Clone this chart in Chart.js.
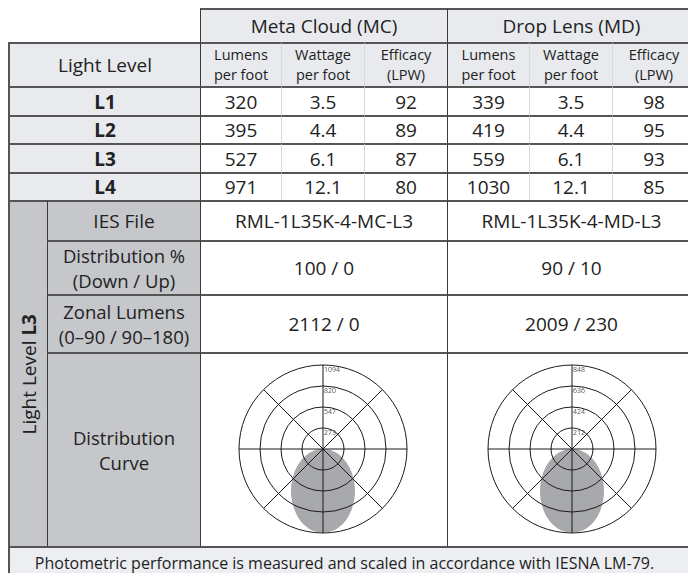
<!DOCTYPE html>
<html>
<head>
<meta charset="utf-8">
<script src="https://cdn.jsdelivr.net/npm/chart.js@4.4.1/dist/chart.umd.min.js"></script>
<style>
  body {
    margin: 0;
    background: #fff;
    overflow: hidden;
    font-family: "Open Sans", sans-serif;
    color: #222;
  }
  #spec {
    position: absolute;
    left: 8px;
    top: 8px;
    display: grid;
    grid-template-columns: 39px 153px 81px 83px 83px 82px 83px 83px;
    grid-template-rows: 34px 44px 29px 28px 29px 28px 40px 54px 58px 194px 32px;
  }
  .cell {
    box-sizing: border-box;
    border-top: 2px solid #555;
    border-left: 1px solid #3a3a3a;
    display: flex;
    align-items: center;
    justify-content: center;
    text-align: center;
    font-size: 19px;
    line-height: 22px;
    background: #fff;
  }
  .blank { border: none; }
  .first { border-left: 2px solid #555; }
  .head { background: #e8eaee; }
  .sub { font-size: 14.5px; line-height: 19.8px; }
  .two { font-size: 18.5px; line-height: 25.5px; }
  .faint { border-left-color: #d9d9d9; }
  .dark { background: #c5c7cb; }
  .lvl { font-weight: bold; }
  .vert span {
    writing-mode: vertical-rl;
    transform: rotate(180deg);
    white-space: nowrap;
  }
  .foot {
    background: #eceef1;
    font-size: 16px;
    padding-right: 16px;
  }
  canvas { position: relative; top: -1px; }
  #mcCurve { left: -1px; }
</style>
</head>
<body>
<div id="spec"></div>
<script>
// Table values
const levels = ['L1', 'L2', 'L3', 'L4'];
const mcLumens = [320, 395, 527, 971];
const mcWattage = ['3.5', '4.4', '6.1', '12.1'];
const mcEfficacy = [92, 89, 87, 80];
const mdLumens = [339, 419, 559, 1030];
const mdWattage = ['3.5', '4.4', '6.1', '12.1'];
const mdEfficacy = [98, 95, 93, 85];

// Photometric curves (candela), vertical angle 0 = nadir .. 180 = zenith
const angles = [0, 5, 10, 15, 20, 25, 30, 35, 40, 45, 50, 55, 60, 65, 70, 75, 80, 85, 90,
  95, 100, 105, 110, 115, 120, 125, 130, 135, 140, 145, 150, 155, 160, 165, 170, 175, 180];
const mcCandela = [1090, 1082, 1054, 1008, 948, 878, 802, 724, 645, 568, 494, 422, 355, 290, 228, 169, 112, 56, 0,
  0, 0, 0, 0, 0, 0, 0, 0, 0, 0, 0, 0, 0, 0, 0, 0, 0, 0];
const mdCandela = [845, 839, 817, 781, 735, 681, 622, 561, 500, 440, 383, 327, 275, 225, 177, 131, 87, 43, 0,
  0, 0, 0, 0, 0, 0, 0, 0, 0, 0, 0, 0, 0, 0, 0, 0, 0, 0];
const mcTicks = ['273', '547', '820', '1094'];
const mdTicks = ['212', '424', '636', '848'];
const mcMax = 1094;
const mdMax = 848;

function buildTable() {
  const spec = document.getElementById('spec');
  let html = `
    <div class="cell blank" style="grid-column: span 2"></div>
    <div class="cell head" style="grid-column: span 3">Meta Cloud (MC)</div>
    <div class="cell head" style="grid-column: span 3">Drop Lens (MD)</div>
    <div class="cell head first" style="grid-column: span 2">Light Level</div>
    <div class="cell head sub">Lumens<br>per foot</div>
    <div class="cell head sub faint">Wattage<br>per foot</div>
    <div class="cell head sub faint">Efficacy<br>(LPW)</div>
    <div class="cell head sub">Lumens<br>per foot</div>
    <div class="cell head sub faint">Wattage<br>per foot</div>
    <div class="cell head sub faint">Efficacy<br>(LPW)</div>
  `;
  levels.forEach((lvl, i) => {
    html += `
      <div class="cell head first lvl" style="grid-column: span 2">${lvl}</div>
      <div class="cell">${mcLumens[i]}</div>
      <div class="cell faint">${mcWattage[i]}</div>
      <div class="cell faint">${mcEfficacy[i]}</div>
      <div class="cell">${mdLumens[i]}</div>
      <div class="cell faint">${mdWattage[i]}</div>
      <div class="cell faint">${mdEfficacy[i]}</div>
    `;
  });
  html += `
    <div class="cell dark first vert" style="grid-row: span 4"><span>Light Level <b>L3</b></span></div>
    <div class="cell dark">IES File</div>
    <div class="cell" style="grid-column: span 3">RML-1L35K-4-MC-L3</div>
    <div class="cell" style="grid-column: span 3">RML-1L35K-4-MD-L3</div>
    <div class="cell dark two">Distribution %<br>(Down / Up)</div>
    <div class="cell" style="grid-column: span 3">100 / 0</div>
    <div class="cell" style="grid-column: span 3">90 / 10</div>
    <div class="cell dark two">Zonal Lumens<br>(0–90 / 90–180)</div>
    <div class="cell" style="grid-column: span 3">2112 / 0</div>
    <div class="cell" style="grid-column: span 3">2009 / 230</div>
    <div class="cell dark two">Distribution<br>Curve</div>
    <div class="cell" style="grid-column: span 3"><canvas id="mcCurve" width="176" height="176"></canvas></div>
    <div class="cell" style="grid-column: span 3"><canvas id="mdCurve" width="176" height="176"></canvas></div>
    <div class="cell foot first" style="grid-column: span 8">Photometric performance is measured and scaled in accordance with IESNA LM-79.</div>
  `;
  spec.innerHTML = html;
}

// Ring values printed just right of the vertical axis
const ringLabels = {
  id: 'ringLabels',
  afterDraw(chart, args, opts) {
    const r = chart.scales.r;
    const ctx = chart.ctx;
    ctx.save();
    ctx.font = '7px "Open Sans"';
    ctx.fillStyle = '#555';
    ctx.textAlign = 'left';
    ctx.textBaseline = 'top';
    r.ticks.slice(1).forEach((tick, i) => {
      const d = r.getDistanceFromCenterForValue(tick.value);
      ctx.fillText(opts.labels[i], r.xCenter + 1, r.yCenter - d + 1);
    });
    ctx.restore();
  }
};

function initCurve(id, candela, max, ticks) {
  // 72 spokes 5° apart, clockwise from the top (zenith)
  const labels = Array.from({length: 72}, (_, i) => angles[Math.abs(36 - i)]);
  const values = Array.from({length: 72}, (_, i) => candela[Math.abs(36 - i)]);

  new Chart(document.getElementById(id), {
    type: 'radar',
    data: {
      labels: labels,
      datasets: [{
        data: values,
        backgroundColor: '#a8a9ac',
        borderWidth: 0,
        fill: true,
        tension: 0.2,
        pointRadius: 0
      }]
    },
    options: {
      responsive: false,
      animation: false,
      layout: { padding: 4 },
      plugins: {
        legend: { display: false },
        tooltip: { enabled: false },
        ringLabels: { labels: ticks }
      },
      scales: {
        r: {
          min: 0,
          max: max,
          ticks: { display: false, stepSize: max / 4 },
          pointLabels: { display: false },
          // grid drawn above the filled curve
          grid: { circular: true, color: '#1a1a1a', lineWidth: 1, z: 1 },
          angleLines: {
            color: (ctx) => ctx.index % 9 === 0 ? '#1a1a1a' : 'rgba(0,0,0,0)',
            lineWidth: (ctx) => ctx.index % 9 === 0 ? 1 : 0
          }
        }
      }
    },
    plugins: [ringLabels]
  });
}

buildTable();
initCurve('mcCurve', mcCandela, mcMax, mcTicks);
initCurve('mdCurve', mdCandela, mdMax, mdTicks);
</script>
</body>
</html>
